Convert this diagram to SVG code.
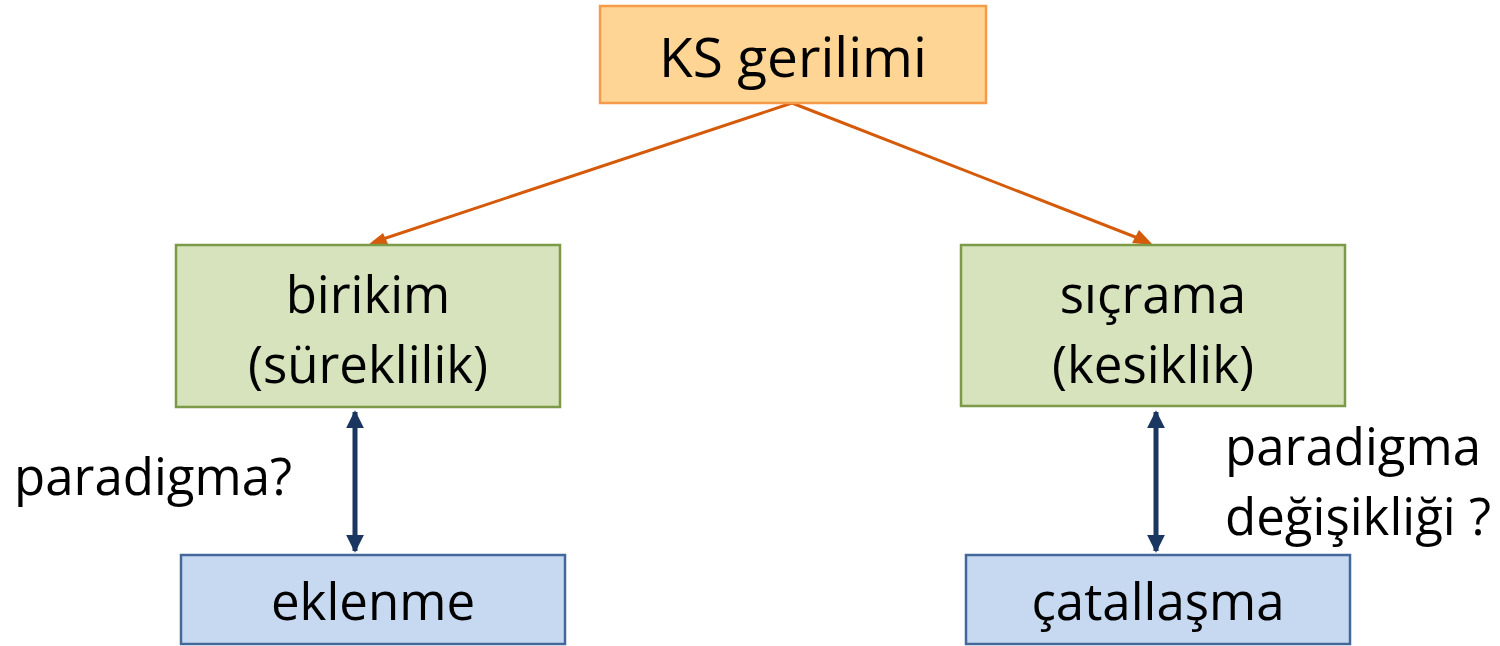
<svg xmlns="http://www.w3.org/2000/svg" width="1500" height="646" viewBox="0 0 1500 646">
<style>
text{font-family:"Open Sans","Liberation Sans",sans-serif;fill:#000;font-size:51px;}
.c{text-anchor:middle;}
.top{fill:#fed594;stroke:#f59c4b;stroke-width:2.5;}
.mid{fill:#d6e3bd;stroke:#7d9a48;stroke-width:2.5;}
.bot{fill:#c7d9f0;stroke:#44689a;stroke-width:2.5;}
.oa{stroke:#d55b0a;stroke-width:3;fill:none;}
.ba{stroke:#1b3660;stroke-width:5;fill:none;marker-start:url(#bh);marker-end:url(#bh);}
</style>
<defs>
<marker id="bh" viewBox="0 0 10 10" refX="9" refY="5" markerWidth="18" markerHeight="18" orient="auto-start-reverse" markerUnits="userSpaceOnUse">
<path d="M0,0 L10,5 L0,10 z" fill="#1b3660"/>
</marker>
</defs>
<g id="connectors">
<path class="oa" d="M792,103 L374,242"/>
<polygon points="368,245 383,233 389,246" fill="#d55b0a"/>
<path class="oa" d="M792,103 L1148,242"/>
<polygon points="1153,245 1132,243 1139,230" fill="#d55b0a"/>
<path class="ba" d="M355,412 L355,551"/>
<path class="ba" d="M1156,412 L1156,551"/>
</g>
<g id="n-top"><rect class="top" x="600" y="6" width="386" height="97"/><text class="c" x="793" y="77" style="font-size:55px">KS gerilimi</text></g>
<g id="n-birikim"><rect class="mid" x="176" y="245" width="384" height="162"/><text class="c" x="368" y="313">birikim</text><text class="c" x="368" y="383">(süreklilik)</text></g>
<g id="n-sicrama"><rect class="mid" x="961" y="245" width="384" height="161"/><text class="c" x="1153" y="313">sıçrama</text><text class="c" x="1153" y="383">(kesiklik)</text></g>
<g id="n-eklenme"><rect class="bot" x="181" y="555" width="384" height="89"/><text class="c" x="373" y="620">eklenme</text></g>
<g id="n-catal"><rect class="bot" x="966" y="555" width="384" height="89"/><text class="c" x="1158" y="620">çatallaşma</text></g>
<g id="l-left"><text x="14" y="495">paradigma?</text></g>
<g id="l-right"><text x="1225" y="465">paradigma</text><text x="1225" y="535">değişikliği ?</text></g>
</svg>
